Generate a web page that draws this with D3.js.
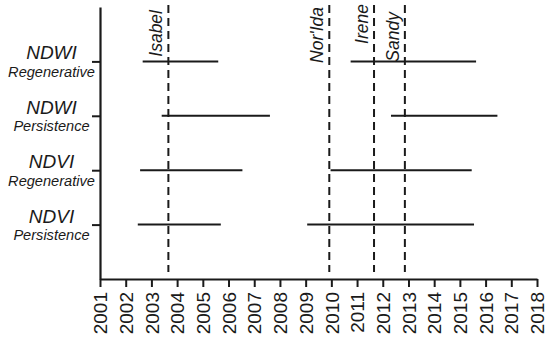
<!DOCTYPE html>
<html>
<head>
<meta charset="utf-8">
<script src="https://cdn.jsdelivr.net/npm/d3@7"></script>
<style>
  body { margin: 0; background: #fff; }
  svg text { font-family: "Liberation Sans", Arial, sans-serif; fill: #1a1a1a; }
  .it { font-style: italic; }
</style>
</head>
<body>
<div id="chart"></div>
<script>
// rows, top to bottom
var indices = ["NDWI", "NDWI", "NDVI", "NDVI"];
var kinds = ["Regenerative", "Persistence", "Regenerative", "Persistence"];
var rowPos = [4, 3, 2, 1];

// two periods per row (decimal years)
var start1 = [2002.66, 2003.40, 2002.56, 2002.47];
var end1   = [2005.60, 2007.61, 2006.54, 2005.70];
var start2 = [2010.75, 2012.32, 2009.97, 2009.06];
var end2   = [2015.63, 2016.46, 2015.46, 2015.55];

// storms
var storms = ["Isabel", "Nor'Ida", "Irene", "Sandy"];
var stormDates = [2003.66, 2009.92, 2011.66, 2012.86];

var years = d3.range(2001, 2019);

// top of each storm label (px), as drawn in the original
var stormLabelTop = [10, 7, 4, 12];

var svg = d3.select("#chart")
    .append("svg")
    .attr("width", 550)
    .attr("height", 341);

var x = d3.scaleLinear().domain([2001, 2018]).range([100, 537]);
var y = d3.scaleLinear().domain([0, 5]).range([279, 7]);

var ink = "#1a1a1a";

// x axis
var xAxis = svg.append("g")
    .attr("transform", "translate(0," + y(0) + ")")
    .call(d3.axisBottom(x).tickValues(years).tickFormat(d3.format("d")).tickSize(8).tickSizeOuter(0));
xAxis.select(".domain").attr("stroke", ink).attr("stroke-width", 2.2);
xAxis.selectAll(".tick line").attr("stroke", ink).attr("stroke-width", 2);
xAxis.selectAll(".tick text")
    .attr("transform", "rotate(-90)")
    .attr("x", -13)
    .attr("y", 0)
    .attr("dy", "0.35em")
    .style("text-anchor", "end")
    .style("font-size", "19px");

// y axis
var yAxis = svg.append("g")
    .attr("transform", "translate(" + x(2001) + ",0)")
    .call(d3.axisLeft(y).tickValues(rowPos).tickFormat("").tickSize(8).tickSizeOuter(0));
yAxis.select(".domain").attr("stroke", ink).attr("stroke-width", 2.2);
yAxis.selectAll(".tick line").attr("stroke", ink).attr("stroke-width", 2);

// row labels
var labels = svg.append("g");
rowPos.forEach(function(r, i) {
    labels.append("text")
        .attr("class", "it")
        .attr("x", 51.5)
        .attr("y", y(r) - 2)
        .attr("text-anchor", "middle")
        .style("font-size", "19px")
        .text(indices[i]);
    labels.append("text")
        .attr("class", "it")
        .attr("x", 51.5)
        .attr("y", y(r) + 15.5)
        .attr("text-anchor", "middle")
        .style("font-size", "14.6px")
        .text(kinds[i]);
});

// storm lines
storms.forEach(function(s, i) {
    svg.append("line")
        .attr("x1", x(stormDates[i]))
        .attr("x2", x(stormDates[i]))
        .attr("y1", 5)
        .attr("y2", 272)
        .attr("stroke", ink)
        .attr("stroke-width", 2)
        .attr("stroke-dasharray", "8,5");
    svg.append("text")
        .attr("class", "it")
        .attr("transform", "translate(" + (x(stormDates[i]) - 6) + "," + stormLabelTop[i] + ") rotate(-90)")
        .attr("text-anchor", "end")
        .style("font-size", "17.5px")
        .text(s);
});

// periods
var segs = svg.append("g");
rowPos.forEach(function(r, i) {
    [[start1[i], end1[i]], [start2[i], end2[i]]].forEach(function(p) {
        segs.append("line")
            .attr("x1", x(p[0]))
            .attr("x2", x(p[1]))
            .attr("y1", y(r))
            .attr("y2", y(r))
            .attr("stroke", ink)
            .attr("stroke-width", 2);
    });
});
</script>
</body>
</html>
